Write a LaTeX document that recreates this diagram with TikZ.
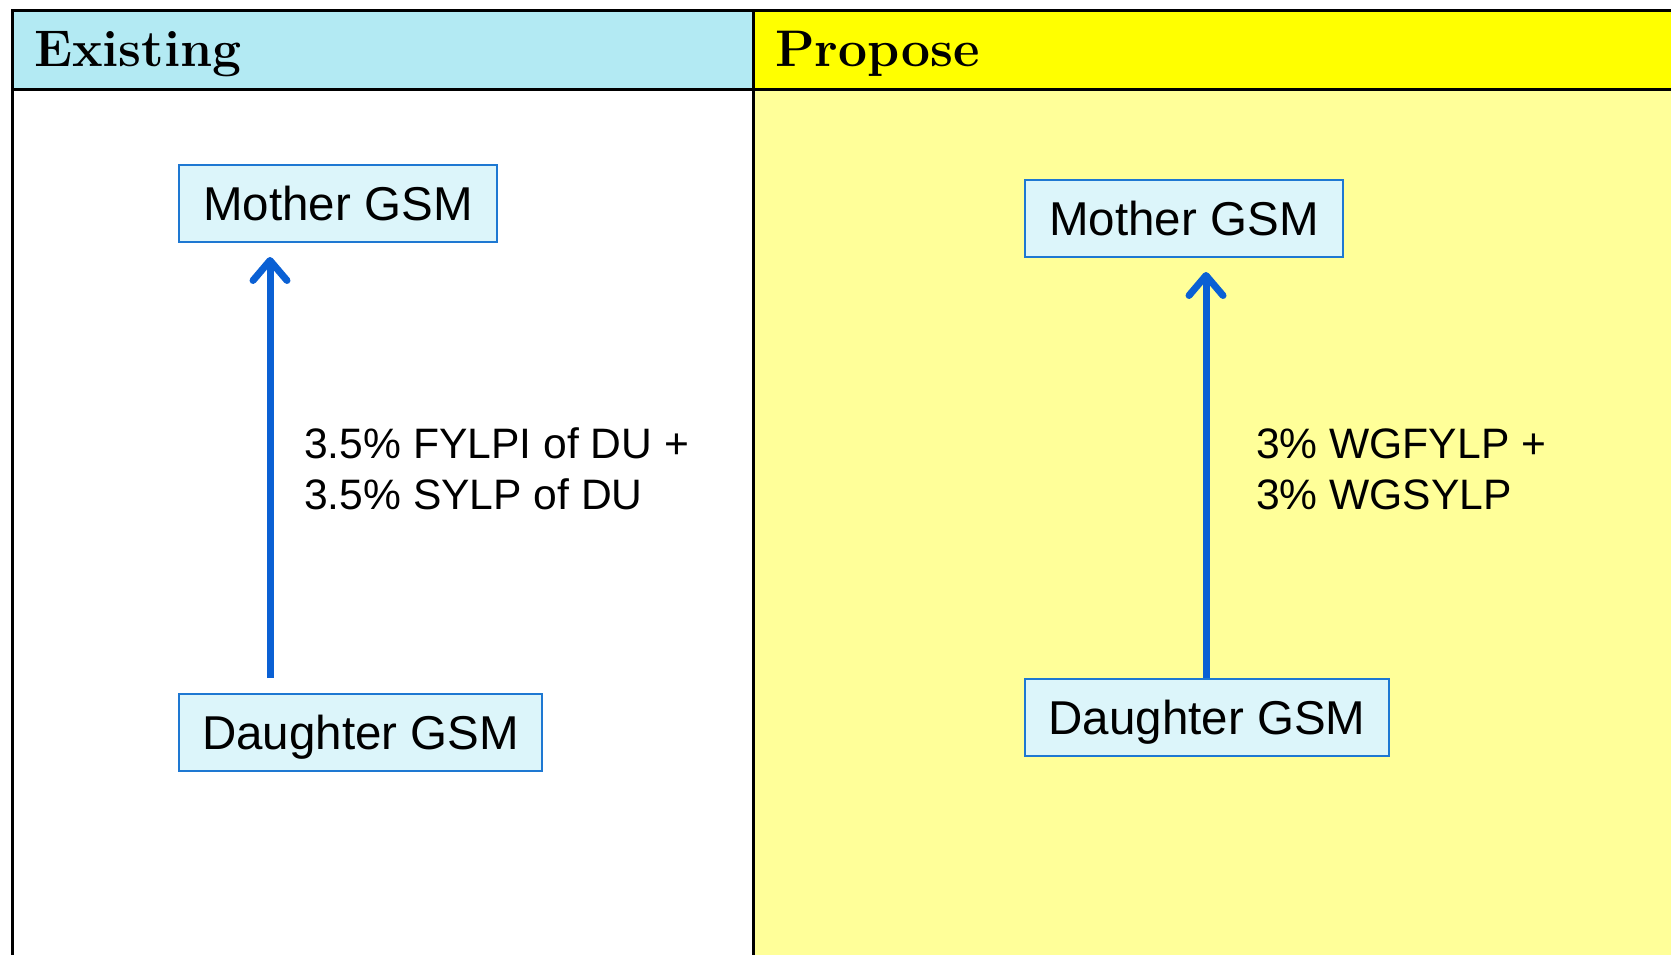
\documentclass[tikz,border=0pt]{standalone}
\usepackage{fontspec}
\newfontfamily\arialfont{Liberation Sans}
\usetikzlibrary{arrows.meta}
\definecolor{hdrcyan}{HTML}{B3EAF3}
\definecolor{hdryellow}{HTML}{FFFF00}
\definecolor{bodyyellow}{HTML}{FFFF99}
\definecolor{boxfill}{HTML}{DCF5FA}
\definecolor{boxline}{HTML}{1E78D2}
\definecolor{arrowblue}{HTML}{0A60D4}
\tikzset{
  gsmbox/.style={draw=boxline, line width=2pt, fill=boxfill, inner sep=0pt,
    text height=34pt, text depth=0pt,
    minimum height=77pt, font=\arialfont\fontsize{47.5}{57}\selectfont},
  hdrtext/.style={anchor=base west, inner sep=0pt, font=\fontsize{51.5}{60}\selectfont\bfseries},
  lbltext/.style={anchor=west, align=left, inner sep=0pt, font=\arialfont\fontsize{42.6}{51}\selectfont},
  arr/.style={draw=arrowblue, line width=7pt, -{Straight Barb[length=20pt, width=34pt, line width=7pt, round]}},
  frame/.style={draw=black, line width=3pt}
}
\begin{document}
\begin{tikzpicture}[x=1pt, y=-1pt]
\useasboundingbox (0,0) rectangle (1671,955);
\clip (0,0) rectangle (1671,955);
% backgrounds
\fill[white] (0,0) rectangle (1671,955);
\fill[hdrcyan] (12.8,10.7) rectangle (753,89.5);
\fill[hdryellow] (753,10.7) rectangle (1690,89.5);
\fill[bodyyellow] (753,89.5) rectangle (1690,970);
% frame lines
\draw[frame] (12.8,970) -- (12.8,10.7) -- (1690,10.7);
\draw[frame] (12.8,89.5) -- (1690,89.5);
\draw[frame] (753,10.7) -- (753,970);
% headers
\node[hdrtext] (hL) at (34,67) {Existing};
\node[hdrtext] (hR) at (775,67) {Propose};
% boxes
\node[gsmbox, minimum width=318pt] (mL) at (338,203.5) {Mother GSM};
\node[gsmbox, minimum width=363pt] (dL) at (360.5,732) {Daughter GSM};
\node[gsmbox, minimum width=318pt] (mR) at (1184,218.5) {Mother GSM};
\node[gsmbox, minimum width=364pt] (dR) at (1207,717.5) {Daughter GSM};
% arrows
\coordinate (aL0) at (270,678);
\coordinate (aL1) at (270,257);
\coordinate (aR1) at (1206,272);
\draw[arr] (aL0) -- (aL1);
\draw[arr] (dR.north -| aR1) -- (aR1);
% labels
\node[lbltext] (lL) at (304,469) {3.5\% FYLPI of DU +\\3.5\% SYLP of DU};
\node[lbltext] (lR) at (1256,469) {3\% WGFYLP +\\3\% WGSYLP};
\end{tikzpicture}
\end{document}
